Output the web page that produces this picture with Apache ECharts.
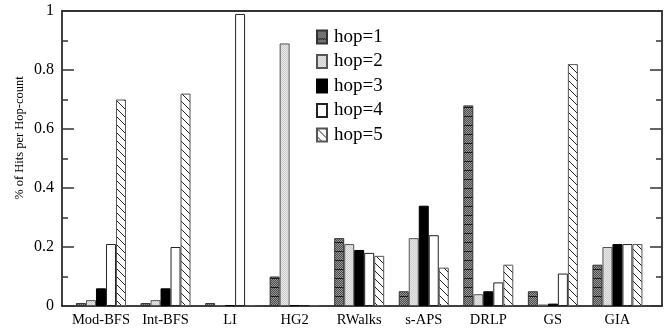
<!DOCTYPE html>
<html><head><meta charset="utf-8">
<script src="https://cdn.jsdelivr.net/npm/echarts@6/dist/echarts.min.js"></script>
<style>html,body{margin:0;padding:0;background:#fff}#c{width:669px;height:331px}</style>
</head><body><div id="c"></div>
<script>
var categories = ['Mod-BFS','Int-BFS','LI','HG2','RWalks','s-APS','DRLP','GS','GIA'];
var hop1 = [0.01, 0.01, 0.01, 0.10, 0.23, 0.05, 0.68, 0.05, 0.14];
var hop2 = [0.02, 0.02, 0.003, 0.89, 0.21, 0.23, 0.04, 0.005, 0.20];
var hop3 = [0.06, 0.06, 0.003, 0.003, 0.19, 0.34, 0.05, 0.008, 0.21];
var hop4 = [0.21, 0.20, 0.99, 0.003, 0.18, 0.24, 0.08, 0.11, 0.21];
var hop5 = [0.70, 0.72, 0.003, 0.003, 0.17, 0.13, 0.14, 0.82, 0.21];
var seriesNames = ['hop=1','hop=2','hop=3','hop=4','hop=5'];
var yTicks = [0, 0.2, 0.4, 0.6, 0.8, 1];

function tile(w, h, draw) {
  var c = document.createElement('canvas'); c.width = w; c.height = h;
  var g = c.getContext('2d'); draw(g, w, h); return c;
}
var pat1 = tile(4, 9, function (g) {
  for (var y = 0; y < 9; y++) for (var x = 0; x < 4; x++) {
    g.fillStyle = ((x + y) % 2 === 0) ? '#4a4a4a' : '#9a9a9a';
    g.fillRect(x, y, 1, 1);
  }
  g.fillStyle = '#1a1a1a'; g.fillRect(0, 8, 4, 1);
});
var pat2 = tile(2, 2, function (g) {
  g.fillStyle = '#e6e6e6'; g.fillRect(0, 0, 2, 2);
  g.fillStyle = '#cfcfcf'; g.fillRect(0, 0, 1, 1); g.fillRect(1, 1, 1, 1);
});
var pat5 = tile(8, 8, function (g) {
  g.fillStyle = '#fff'; g.fillRect(0, 0, 8, 8);
  g.strokeStyle = '#222'; g.lineWidth = 1;
  g.beginPath(); g.moveTo(-1, -1); g.lineTo(9, 9); g.stroke();
});
var fills = [
  {image: pat1, repeat: 'repeat'},
  {image: pat2, repeat: 'repeat'},
  '#000',
  '#fff',
  {image: pat5, repeat: 'repeat'}
];
var borders = ['#333', '#555', '#000', '#222', '#555'];
var data = [hop1, hop2, hop3, hop4, hop5];

var serif = '"Liberation Serif", "DejaVu Serif", serif';
var chart = echarts.init(document.getElementById('c'));
var series = data.map(function (d, i) {
  return {
    name: seriesNames[i], type: 'bar', xAxisIndex: 2, yAxisIndex: 2,
    data: d, barWidth: 10, barGap: '0%',
    itemStyle: {color: fills[i], borderColor: borders[i], borderWidth: 1},
    emphasis: {disabled: true}, animation: false
  };
});
chart.setOption({
  animation: false,
  grid: [
    {left: 62, right: 7, top: 11, bottom: 25},
    {left: 62, right: 7, top: 11, bottom: 25},
    {left: 68.7, right: 19.3, top: 11, bottom: 25}
  ],
  legend: {
    orient: 'vertical', left: 316, top: 27.5, itemWidth: 10, itemHeight: 13,
    itemGap: 5.5, padding: 0, icon: 'rect', selectedMode: false,
    data: seriesNames,
    textStyle: {fontFamily: serif, fontSize: 19, color: '#000', padding: [0, 0, 0, 2]}
  },
  xAxis: [
    {type: 'value', gridIndex: 0, position: 'bottom', min: 0, max: 1,
     axisLine: {show: true, onZero: false, lineStyle: {color: '#000', width: 1.5}}, axisTick: {show: false},
     axisLabel: {show: false}, splitLine: {show: false}},
    {type: 'value', gridIndex: 1, position: 'top', min: 0, max: 1,
     axisLine: {show: true, onZero: false, lineStyle: {color: '#333', width: 2}}, axisTick: {show: false},
     axisLabel: {show: false}, splitLine: {show: false}},
    {type: 'category', gridIndex: 2, data: categories,
     axisLine: {show: false}, axisTick: {show: false},
     axisLabel: {interval: 0, margin: 7, fontFamily: serif, fontSize: 14.5, color: '#000'}}
  ],
  yAxis: [
    {type: 'value', gridIndex: 0, position: 'left', min: 0, max: 1, interval: 0.2,
     axisLine: {show: true, onZero: false, lineStyle: {color: '#000', width: 1.5}},
     axisTick: {show: true, inside: true, length: 12, lineStyle: {color: '#333', width: 1.5}},
     minorTick: {show: true, splitNumber: 2, length: 6, lineStyle: {color: '#333', width: 1.5}},
     axisLabel: {margin: 8, fontFamily: serif, fontSize: 16, color: '#000',
       formatter: function (v) { return yTicks.indexOf(v) >= 0 ? String(v) : ''; }},
     splitLine: {show: false}},
    {type: 'value', gridIndex: 1, position: 'right', min: 0, max: 1, interval: 0.2,
     axisLine: {show: true, onZero: false, lineStyle: {color: '#000', width: 1.5}},
     axisTick: {show: true, inside: true, length: 12, lineStyle: {color: '#333', width: 1.5}},
     minorTick: {show: true, splitNumber: 2, length: 6, lineStyle: {color: '#333', width: 1.5}},
     axisLabel: {show: false}, splitLine: {show: false}},
    {type: 'value', gridIndex: 2, min: 0, max: 1, show: false}
  ],
  graphic: [{
    type: 'text', x: 20, y: 138, rotation: Math.PI / 2,
    style: {text: '% of Hits per Hop-count', fontFamily: serif, fontSize: 12.5, fill: '#000',
            align: 'center', verticalAlign: 'middle'}
  }],
  series: series
});
</script></body></html>
